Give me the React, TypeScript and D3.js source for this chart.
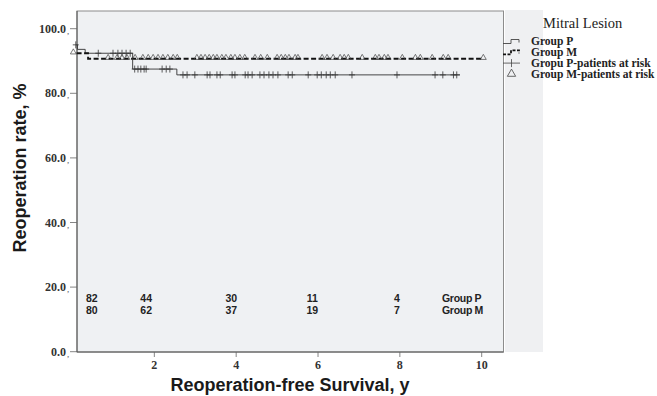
import * as d3 from 'd3'

// Kaplan-Meier steps (time in years, reoperation-free %)
const groupPSteps = [
  { t: 0.1, v: 95.0 },
  { t: 0.12, v: 93.6 },
  { t: 0.31, v: 92.4 },
  { t: 1.47, v: 87.5 },
  { t: 2.55, v: 85.7 },
  { t: 9.47, v: 85.7 },
]
const groupMSteps = [
  { t: 0.1, v: 92.4 },
  { t: 0.38, v: 90.7 },
  { t: 10.04, v: 90.7 },
]

// censored observations
const groupPCensored = [
  0.08, 0.63, 0.99, 1.11, 1.21, 1.31, 1.41, 1.52, 1.6, 1.67, 1.75, 1.8, 2.19, 2.29, 2.38,
  2.7, 2.8, 2.99, 3.29, 3.36, 3.53, 3.61, 3.9, 3.97, 4.22, 4.29, 4.39, 4.58, 4.68, 4.8,
  4.9, 5.02, 5.27, 5.37, 5.76, 5.98, 6.08, 6.2, 6.3, 6.42, 6.83, 7.93, 8.86, 9.05, 9.31, 9.39,
]
const groupMCensored = [
  0.02, 0.87, 1.09, 1.21, 1.33, 1.53, 1.72, 1.85, 1.97, 2.09, 2.21, 2.33, 2.46, 2.56, 3.04,
  3.14, 3.24, 3.34, 3.44, 3.53, 3.65, 3.75, 3.87, 3.97, 4.09, 4.21, 4.46, 4.6, 4.76, 5.0,
  5.1, 5.2, 5.29, 5.44, 5.51, 6.1, 6.22, 6.37, 6.54, 6.64, 6.74, 7.08, 7.4, 7.49, 7.62,
  7.71, 8.06, 8.38, 8.5, 8.79, 9.06, 9.18, 10.04,
]

// numbers at risk
const atRiskTimes = [0.47, 1.8, 3.88, 5.86, 7.93]
const atRiskP = ['82', '44', '30', '11', '4']
const atRiskM = ['80', '62', '37', '19', '7']

const xTicks = [2, 4, 6, 8, 10]
const yTicks = [0, 20, 40, 60, 80, 100]

const legendItems = ['Group P', 'Group M', 'Gropu P-patients at risk', 'Group M-patients at risk']

const W = 657
const H = 396
const plot = { left: 77, right: 503.5, top: 11, bottom: 352 }

export default function App() {
  const x = d3.scaleLinear().domain([0, 10]).range([72.5, 481.7])
  const y = d3.scaleLinear().domain([0, 100]).range([351.7, 28.7])

  const step = d3
    .line<{ t: number; v: number }>()
    .x(d => x(d.t))
    .y(d => y(d.v))
    .curve(d3.curveStepAfter)

  const valueAt = (steps: { t: number; v: number }[], t: number) => {
    let v = steps[0].v
    steps.forEach(s => {
      if (s.t <= t) v = s.v
    })
    return v
  }

  const tri = d3.symbol().type(d3.symbolTriangle).size(15)

  const sans = '"Liberation Sans", Arial, sans-serif'
  const serif = '"Liberation Serif", "Times New Roman", serif'

  return (
    <div style={{ position: 'absolute', left: 0, top: 0 }}>
      <svg width={W} height={H} style={{ display: 'block', background: '#fff' }}>
        {/* right side panel */}
        <rect x={505} y={10} width={38} height={plot.bottom - 10} fill="#eff0f2" />
        {/* plot background */}
        <rect
          x={plot.left}
          y={plot.top}
          width={plot.right - plot.left}
          height={plot.bottom - plot.top}
          fill="#eff1f3"
          stroke="#8c8c8c"
          strokeWidth={1}
        />
        <line x1={plot.left} x2={plot.left} y1={plot.top} y2={plot.bottom} stroke="#555" />
        <line x1={plot.left} x2={plot.right} y1={plot.bottom} y2={plot.bottom} stroke="#555" />

        {/* y axis */}
        {yTicks.map(d => (
          <g key={d}>
            <line x1={70} x2={plot.left} y1={y(d)} y2={y(d)} stroke="#666" strokeWidth={0.8} />
            <text
              x={66}
              y={y(d) + 4}
              textAnchor="end"
              fontFamily={serif}
              fontWeight="bold"
              fontSize={12}
              fill="#333"
            >
              {d.toFixed(1)}
            </text>
            <text x={67} y={y(d) + 5} fontFamily={serif} fontSize={9} fill="#555">
              ,
            </text>
          </g>
        ))}

        {/* x axis */}
        {xTicks.map(d => (
          <g key={d}>
            <line x1={x(d)} x2={x(d)} y1={plot.bottom} y2={plot.bottom + 5} stroke="#666" strokeWidth={0.8} />
            <text
              x={x(d)}
              y={369}
              textAnchor="middle"
              fontFamily={serif}
              fontWeight="bold"
              fontSize={12}
              fill="#333"
            >
              {d}
            </text>
          </g>
        ))}

        {/* curves */}
        <path d={step(groupPSteps) ?? ''} fill="none" stroke="#333" strokeWidth={0.9} />
        <path
          d={step(groupMSteps) ?? ''}
          fill="none"
          stroke="#111"
          strokeWidth={1.8}
          strokeDasharray="5,2.5"
        />

        {/* censor marks */}
        {groupPCensored.map((t, i) => {
          const cx = x(t)
          const cy = y(i === 0 ? 95 : valueAt(groupPSteps, t))
          return (
            <g key={'p' + i} stroke="#333" strokeWidth={0.8}>
              <line x1={cx - 3} x2={cx + 3} y1={cy} y2={cy} />
              <line x1={cx} x2={cx} y1={cy - 3.5} y2={cy + 3.5} />
            </g>
          )
        })}
        {groupMCensored.map((t, i) => (
          <path
            key={'m' + i}
            d={tri() ?? ''}
            transform={`translate(${x(t)},${y(valueAt(groupMSteps, t)) - 1})`}
            fill="none"
            stroke="#444"
            strokeWidth={0.7}
          />
        ))}

        {/* numbers at risk */}
        {atRiskTimes.map((t, i) => (
          <g key={'r' + i} fontFamily={sans} fontWeight="bold" fontSize={10.5} fill="#222">
            <text x={x(t)} y={302} textAnchor="middle">
              {atRiskP[i]}
            </text>
            <text x={x(t)} y={314} textAnchor="middle">
              {atRiskM[i]}
            </text>
          </g>
        ))}
        <g fontFamily={sans} fontWeight="bold" fontSize={10.5} fill="#222" letterSpacing={-0.3}>
          <text x={442} y={302}>
            Group P
          </text>
          <text x={442} y={314}>
            Group M
          </text>
        </g>

        {/* axis titles */}
        <text
          x={290}
          y={391}
          textAnchor="middle"
          fontFamily={sans}
          fontWeight="bold"
          fontSize={18}
          fill="#1a1a1a"
        >
          Reoperation-free Survival, y
        </text>
        <text
          transform="translate(26,168) rotate(-90)"
          textAnchor="middle"
          fontFamily={sans}
          fontWeight="bold"
          fontSize={18}
          fill="#1a1a1a"
        >
          Reoperation rate, %
        </text>

        {/* legend */}
        <text x={543} y={28} fontFamily={serif} fontSize={14.5} fill="#222">
          Mitral Lesion
        </text>
        {legendItems.map((label, i) => {
          const ly = 41.5 + i * 10.8
          return (
            <g key={label}>
              {i === 0 && (
                <path
                  d={`M503,${ly + 2}H511V${ly - 2}H519V${ly + 1}`}
                  fill="none"
                  stroke="#444"
                  strokeWidth={0.9}
                />
              )}
              {i === 1 && (
                <path
                  d={`M503,${ly + 2}H511V${ly - 2}H519V${ly + 1}`}
                  fill="none"
                  stroke="#111"
                  strokeWidth={1.8}
                  strokeDasharray="3,1.5"
                />
              )}
              {i === 2 && (
                <g stroke="#444" strokeWidth={0.8}>
                  <line x1={503} x2={520} y1={ly} y2={ly} />
                  <line x1={511.5} x2={511.5} y1={ly - 4} y2={ly + 4} />
                </g>
              )}
              {i === 3 && (
                <path
                  d={d3.symbol().type(d3.symbolTriangle).size(30)() ?? ''}
                  transform={`translate(511.5,${ly})`}
                  fill="none"
                  stroke="#444"
                  strokeWidth={0.8}
                />
              )}
              <text
                x={531}
                y={ly + 3.8}
                fontFamily={serif}
                fontWeight="bold"
                fontSize={11.5}
                fill="#222"
              >
                {label}
              </text>
            </g>
          )
        })}
      </svg>
    </div>
  )
}
